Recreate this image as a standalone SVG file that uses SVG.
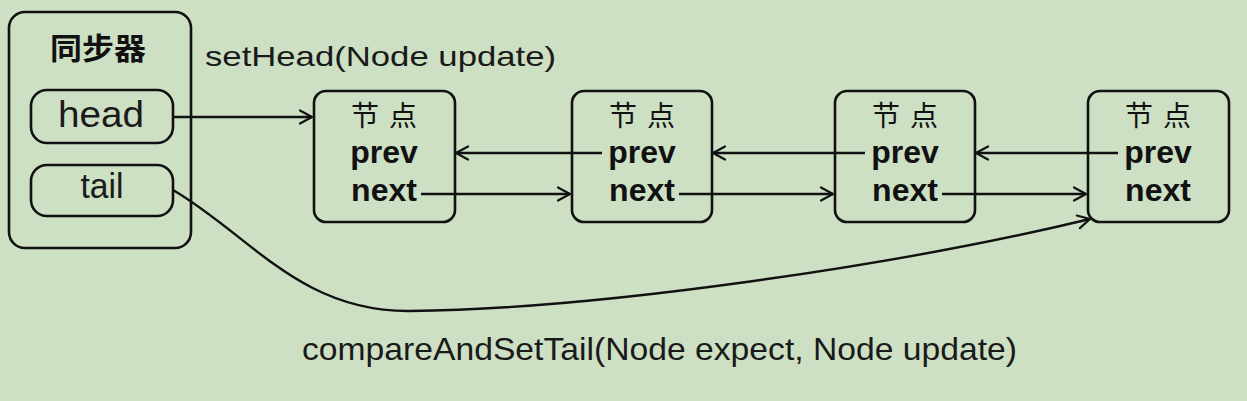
<svg xmlns="http://www.w3.org/2000/svg" width="1247" height="401" viewBox="0 0 1247 401">
<defs>
<marker id="arr" markerUnits="userSpaceOnUse" markerWidth="16" markerHeight="16" refX="13" refY="7" orient="auto" overflow="visible">
<path d="M1,0.5 L13,7 L1,13.5" fill="none" stroke="#111" stroke-width="2.2" stroke-linecap="round" stroke-linejoin="round"/>
</marker>
<style>
.box{fill:none;stroke:#111;stroke-width:2.6}
.cn{font-family:"Noto Sans CJK SC","Liberation Sans",sans-serif;font-weight:bold;fill:#111;text-anchor:middle}
.jd{font-family:"Noto Sans CJK SC","Liberation Sans",sans-serif;font-weight:normal;font-size:28px;fill:#111;text-anchor:middle}
.fld{font-family:"Liberation Sans",Arial,sans-serif;font-weight:bold;font-size:32px;fill:#111;text-anchor:middle}
.lbl{font-family:"Liberation Sans",Arial,sans-serif;fill:#1a1a1a}
.ln{fill:none;stroke:#111;stroke-width:2.4;marker-end:url(#arr)}
</style>
</defs>
<rect width="1247" height="401" fill="#cde0c4"/>
<g id="sync">
<rect class="box" x="9" y="12" width="182" height="236" rx="16"/>
<text class="cn" x="98" y="59" font-size="30" textLength="96" lengthAdjust="spacingAndGlyphs">同步器</text>
<g id="head">
<rect class="box" x="31" y="90" width="142" height="53" rx="16"/>
<text class="lbl" x="101" y="127" font-size="36" text-anchor="middle" textLength="86" lengthAdjust="spacingAndGlyphs">head</text>
</g>
<g id="tail">
<rect class="box" x="31" y="165" width="142" height="51" rx="16"/>
<text class="lbl" x="102" y="198" font-size="35" text-anchor="middle" textLength="43" lengthAdjust="spacingAndGlyphs">tail</text>
</g>
</g>
<g id="node1">
<rect class="box" x="314" y="91" width="141" height="131" rx="12"/>
<text class="jd" x="384" y="126" textLength="66" lengthAdjust="spacing">节点</text>
<text class="fld" x="384" y="163">prev</text>
<text class="fld" x="384" y="201">next</text>
</g>
<g id="node2">
<rect class="box" x="572" y="91" width="140" height="131" rx="12"/>
<text class="jd" x="642" y="126" textLength="66" lengthAdjust="spacing">节点</text>
<text class="fld" x="642" y="163">prev</text>
<text class="fld" x="642" y="201">next</text>
</g>
<g id="node3">
<rect class="box" x="835" y="91" width="140" height="131" rx="12"/>
<text class="jd" x="905" y="126" textLength="66" lengthAdjust="spacing">节点</text>
<text class="fld" x="905" y="163">prev</text>
<text class="fld" x="905" y="201">next</text>
</g>
<g id="node4">
<rect class="box" x="1088" y="91" width="141" height="131" rx="12"/>
<text class="jd" x="1158" y="126" textLength="66" lengthAdjust="spacing">节点</text>
<text class="fld" x="1158" y="163">prev</text>
<text class="fld" x="1158" y="201">next</text>
</g>
<g id="connectors">
<path class="ln" d="M173,117 L312,117"/>
<path class="ln" d="M602,153 L456,153"/>
<path class="ln" d="M865,153 L713,153"/>
<path class="ln" d="M1118,153 L976,153"/>
<path class="ln" d="M421,194 L570,194"/>
<path class="ln" d="M679,194 L833,194"/>
<path class="ln" d="M942,194 L1086,194"/>
<path class="ln" d="M173,190 C250,235 300,312 410,311 C600,309 900,265 1090,219"/>
</g>
<g id="labels">
<text class="lbl" x="205" y="66" font-size="28" textLength="351" lengthAdjust="spacingAndGlyphs">setHead(Node update)</text>
<text class="lbl" x="302" y="360" font-size="32" textLength="715" lengthAdjust="spacingAndGlyphs">compareAndSetTail(Node expect, Node update)</text>
</g>
</svg>
